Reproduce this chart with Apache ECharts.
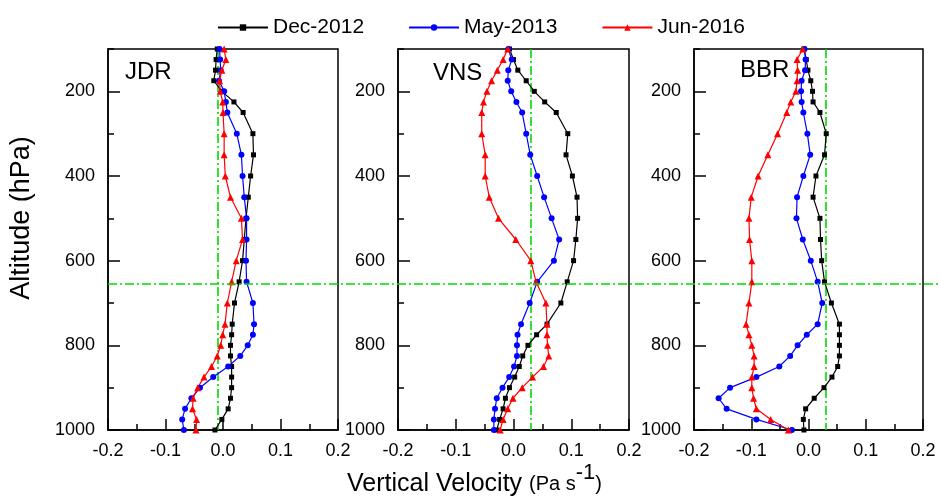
<!DOCTYPE html>
<html>
<head>
<meta charset="utf-8">
<script src="https://cdn.jsdelivr.net/npm/echarts@6/dist/echarts.min.js"></script>
<style>
html,body{margin:0;padding:0;background:#fff;}
#chart{width:940px;height:504px;}
</style>
</head>
<body>
<div id="chart"></div>
<script>
// Pressure levels (hPa)
const levels = [100,125,150,175,200,225,250,300,350,400,450,500,550,600,650,700,750,775,800,825,850,875,900,925,950,975,1000];
const seriesNames = ['Dec-2012','May-2013','Jun-2016'];
const panelNames = ['JDR','VNS','BBR'];

// Vertical velocity (Pa s-1) at each level
const jdrDec = [-0.010,-0.012,-0.013,-0.016,-0.002,0.019,0.035,0.052,0.053,0.048,0.044,0.040,0.037,0.034,0.028,0.020,0.016,0.015,0.013,0.013,0.015,0.015,0.015,0.013,0.009,-0.002,-0.014];
const jdrMay = [-0.006,-0.005,-0.004,-0.007,0.002,0.005,0.0075,0.024,0.032,0.034,0.037,0.041,0.041,0.040,0.041,0.052,0.054,0.052,0.043,0.030,0.009,-0.017,-0.040,-0.055,-0.066,-0.071,-0.068];
const jdrJun = [0.002,0.005,-0.002,-0.006,-0.005,-0.0005,0.000,0.002,0.002,0.004,0.013,0.032,0.034,0.023,0.015,0.0075,0.0035,-0.0005,-0.004,-0.010,-0.020,-0.033,-0.044,-0.052,-0.053,-0.046,-0.047];

const vnsDec = [-0.007,0.000,0.0075,0.022,0.036,0.054,0.074,0.094,0.091,0.102,0.110,0.111,0.108,0.104,0.093,0.082,0.058,0.040,0.025,0.016,0.010,0.002,-0.007,-0.014,-0.018,-0.024,-0.029];
const vnsMay = [-0.009,-0.003,-0.009,-0.010,-0.004,0.005,0.015,0.022,0.029,0.041,0.053,0.066,0.079,0.070,0.041,0.028,0.013,0.007,0.006,0.006,0.001,-0.0075,-0.019,-0.029,-0.032,-0.034,-0.034];
const vnsJun = [-0.010,-0.018,-0.028,-0.038,-0.046,-0.052,-0.055,-0.055,-0.049,-0.049,-0.042,-0.026,0.004,0.030,0.039,0.056,0.058,0.058,0.059,0.061,0.052,0.033,0.015,-0.001,-0.010,-0.018,-0.023];

const bbrDec = [-0.008,-0.004,-0.001,0.004,0.007,0.008,0.020,0.031,0.028,0.013,0.008,0.020,0.021,0.023,0.028,0.040,0.054,0.054,0.054,0.054,0.051,0.041,0.027,0.010,-0.005,-0.009,-0.008];
const bbrMay = [-0.007,-0.005,-0.006,-0.012,-0.013,-0.012,-0.009,-0.002,0.003,-0.009,-0.020,-0.021,-0.010,0.004,0.016,0.024,0.016,-0.003,-0.019,-0.032,-0.051,-0.091,-0.137,-0.157,-0.143,-0.091,-0.029];
const bbrJun = [-0.010,-0.020,-0.019,-0.020,-0.022,-0.031,-0.038,-0.054,-0.071,-0.088,-0.100,-0.104,-0.103,-0.099,-0.099,-0.104,-0.109,-0.104,-0.099,-0.095,-0.095,-0.099,-0.099,-0.096,-0.091,-0.066,-0.035];

// Reference lines
const greenV = [-0.008, 0.033, 0.032];
const greenH = 655;

// Axis ranges / tick steps
const xMin = -0.2, xMax = 0.2, xStep = 0.1;
const yMin = 100, yMax = 1000, yMinorStep = 100;
const yLabelMin = 200, yLabelStep = 200;

const panelData = [[jdrDec,jdrMay,jdrJun],[vnsDec,vnsMay,vnsJun],[bbrDec,bbrMay,bbrJun]];

const FONT = '"Liberation Sans", Arial, sans-serif';
const colors = ['#000000','#0000FF','#FF0000'];
const symbols = ['rect','circle','triangle'];
const symSizes = [5,6,7];
const GREEN = '#00DD00';
const DASHDOT = [9,3,2,3];

const gridLefts = [108, 398, 694];
const gridWidths = [230, 231, 229];
const gridTop = 49, gridHeight = 381;
// overlay grid for labelled ticks starts at the 200 hPa level
const pxPerHPa = gridHeight / (yMax - yMin);
const labTop = gridTop + (yLabelMin - yMin) * pxPerHPa;
const labHeight = (yMax - yLabelMin) * pxPerHPa;

// grids 0-2: panels; grid 3: full-width overlay (horizontal line); grids 4-6: labelled-tick overlays
const grids = gridLefts.map((l,i)=>({left:l, top:gridTop, width:gridWidths[i], height:gridHeight,
  show:true, borderColor:'#000', borderWidth:1.5, backgroundColor:'transparent', containLabel:false}));
grids.push({left:108, top:gridTop, right:0, height:gridHeight, show:false});
gridLefts.forEach((l,i)=>grids.push({left:l, top:labTop, width:gridWidths[i], height:labHeight, show:false}));

const xAxes = [0,1,2].map(i=>({
  type:'value', gridIndex:i, min:xMin, max:xMax, interval:xStep,
  axisLine:{show:true, onZero:false, lineStyle:{color:'#000', width:1.5}},
  axisTick:{show:true, inside:true, length:11, lineStyle:{color:'#000', width:1.5}},
  minorTick:{show:true, splitNumber:2, length:6, lineStyle:{color:'#000', width:1.5}},
  splitLine:{show:false},
  axisLabel:{margin:12, fontSize:18, color:'#000', fontFamily:FONT, formatter:v=>(Math.abs(v)<1e-9?0:v).toFixed(1)}
}));
xAxes.push({type:'value', gridIndex:3, min:0, max:1, show:false});
[4,5,6].forEach(g=>xAxes.push({type:'value', gridIndex:g, min:xMin, max:xMax, show:false}));

// main y axes: line + short ticks every 100 hPa
const yAxes = [0,1,2].map(i=>({
  type:'value', gridIndex:i, inverse:true, min:yMin, max:yMax, interval:yMinorStep, position:'left',
  axisLine:{show:true, onZero:false, lineStyle:{color:'#000', width:1.5}},
  axisTick:{show:true, inside:true, length:6, lineStyle:{color:'#000', width:1.5}},
  splitLine:{show:false},
  axisLabel:{show:false}
}));
yAxes.push({type:'value', gridIndex:3, inverse:true, min:yMin, max:yMax, show:false});
// labelled long ticks every 200 hPa
[4,5,6].forEach(g=>yAxes.push({
  type:'value', gridIndex:g, inverse:true, min:yLabelMin, max:yMax, interval:yLabelStep, position:'left',
  axisLine:{show:false, onZero:false}, splitLine:{show:false},
  axisTick:{show:true, inside:true, length:12, lineStyle:{color:'#000', width:1.5}},
  axisLabel:{show:true, margin:13, fontSize:18, color:'#000', fontFamily:FONT, formatter:v=>String(v)}
}));

const series = [];
panelData.forEach((pd,i)=>{
  pd.forEach((vals,j)=>{
    const s = {
      type:'line', name:seriesNames[j], xAxisIndex:i, yAxisIndex:i,
      data: levels.map((p,k)=>[vals[k], p]),
      symbol:symbols[j], symbolSize:symSizes[j], showSymbol:true,
      color:colors[j], itemStyle:{color:colors[j]},
      lineStyle:{color:colors[j], width:1.2}, z:3, animation:false
    };
    if (j===0) {
      s.markLine = {silent:true, symbol:'none', label:{show:false}, animation:false,
        lineStyle:{color:GREEN, width:1.6, type:DASHDOT},
        data:[{xAxis:greenV[i]}], z:2};
    }
    series.push(s);
  });
});
series.push({
  type:'line', name:'hline', xAxisIndex:3, yAxisIndex:3, data:[[0.5, greenH]],
  showSymbol:false, symbol:'none', lineStyle:{opacity:0}, silent:true, animation:false,
  markLine:{silent:true, symbol:'none', label:{show:false}, animation:false,
    lineStyle:{color:GREEN, width:1.6, type:DASHDOT}, data:[{yAxis:greenH}]}
});

const panelPos = [[125,73],[433,74],[740,71]];
const graphics = panelNames.map((t,i)=>({
  type:'text', left:panelPos[i][0], top:panelPos[i][1]-13, z:10,
  style:{text:t, fontSize:24, fill:'#000', fontFamily:FONT}
}));
graphics.push({
  type:'text', x:22, y:218, rotation:Math.PI/2, z:10,
  style:{text:'Altitude (hPa)', fontSize:27, fill:'#000', fontFamily:FONT, align:'center', verticalAlign:'middle'}
});

const option = {
  animation:false,
  backgroundColor:'#fff',
  textStyle:{fontFamily:FONT},
  grid:grids, xAxis:xAxes, yAxis:yAxes, series:series,
  legend:{
    data:seriesNames, left:212, top:12, itemWidth:50, itemHeight:8, itemGap:44,
    textStyle:{fontSize:21, color:'#000', fontFamily:FONT}
  },
  title:{
    text:'{a|Vertical Velocity }{b|(Pa s}{c|-1}{b|)}',
    left:347, top:462, padding:0,
    textStyle:{fontWeight:'normal', rich:{
      a:{fontSize:25, fontWeight:'normal', color:'#000', fontFamily:FONT, lineHeight:44},
      b:{fontSize:20, fontWeight:'normal', color:'#000', fontFamily:FONT, lineHeight:44},
      c:{fontSize:22, fontWeight:'normal', color:'#000', fontFamily:FONT, verticalAlign:'top', lineHeight:22}
    }}
  },
  graphic:graphics
};

const chart = echarts.init(document.getElementById('chart'), null, {renderer:'canvas'});
chart.setOption(option);
</script>
</body>
</html>
